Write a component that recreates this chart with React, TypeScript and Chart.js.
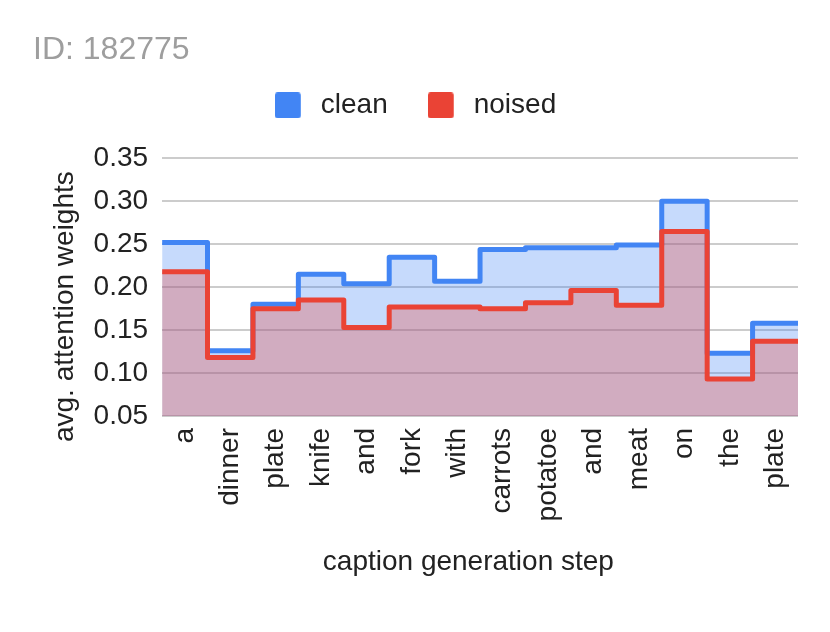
import React, { useEffect, useRef } from "react";
import { Chart, registerables } from "chart.js";

Chart.register(...registerables);

const steps = ["a", "dinner", "plate", "knife", "and", "fork", "with", "carrots", "potatoe", "and", "meat", "on", "the", "plate"];
const clean = [0.252, 0.126, 0.18, 0.215, 0.204, 0.235, 0.207, 0.244, 0.246, 0.246, 0.249, 0.3, 0.123, 0.158];
const noised = [0.218, 0.118, 0.175, 0.185, 0.153, 0.177, 0.177, 0.175, 0.182, 0.196, 0.179, 0.265, 0.093, 0.137];
const yTicks = [0.05, 0.1, 0.15, 0.2, 0.25, 0.3, 0.35];

const FONT = "'Liberation Sans', Arial, sans-serif";

function toSteps(values: number[]) {
  const pts = values.map((v, i) => ({ x: i, y: v }));
  pts.push({ x: values.length, y: values[values.length - 1] });
  return pts;
}

function legendSwatch(color: string) {
  const c = document.createElement("canvas");
  c.width = 32;
  c.height = 26;
  const ctx = c.getContext("2d")!;
  ctx.fillStyle = color;
  ctx.beginPath();
  if ((ctx as any).roundRect) (ctx as any).roundRect(0, 0, 26, 26, 3);
  else ctx.rect(0, 0, 26, 26);
  ctx.fill();
  return c;
}

export default function App() {
  const ref = useRef<HTMLCanvasElement | null>(null);

  useEffect(() => {
    if (!ref.current) return;
    const chart = new Chart(ref.current, {
      type: "line",
      data: {
        datasets: [
          {
            label: "clean",
            data: toSteps(clean),
            stepped: true,
            borderColor: "#4285F4",
            backgroundColor: "rgba(66,133,244,0.3)",
            fill: "start",
            borderWidth: 5,
            pointRadius: 0,
            borderJoinStyle: "round",
            order: 2,
          },
          {
            label: "noised",
            data: toSteps(noised),
            stepped: true,
            borderColor: "#EA4335",
            backgroundColor: "rgba(234,67,53,0.3)",
            fill: "start",
            borderWidth: 5,
            pointRadius: 0,
            borderJoinStyle: "round",
            order: 1,
          },
        ],
      },
      options: {
        responsive: false,
        animation: false,
        devicePixelRatio: 1,
        layout: { padding: { left: 33, right: 32, top: 31, bottom: 53 } },
        plugins: {
          tooltip: { enabled: false },
          title: {
            display: true,
            text: "ID: 182775",
            align: "start",
            color: "#9e9e9e",
            font: { family: FONT, size: 32, weight: "normal" },
            padding: { top: 0, bottom: -18 },
          },
          subtitle: {
            display: true,
            text: "",
            weight: 500,
            font: { family: FONT, size: 10 },
            padding: { top: 0, bottom: 17 },
          },
          legend: {
            position: "top",
            align: "center",
            labels: {
              boxWidth: 26,
              boxHeight: 26,
              usePointStyle: true,
              pointStyleWidth: 32,
              padding: 40,
              color: "#222",
              font: { family: FONT, size: 28 },
              sort: (a: any, b: any) => a.datasetIndex - b.datasetIndex,
              generateLabels: (c: any) => {
                const items = Chart.defaults.plugins.legend.labels.generateLabels(c);
                items.forEach((it: any) => {
                  const color = c.data.datasets[it.datasetIndex].borderColor as string;
                  it.pointStyle = legendSwatch(color);
                  it.fillStyle = color;
                  it.strokeStyle = color;
                  it.lineWidth = 0;
                });
                return items;
              },
            },
          },
        },
        scales: {
          x: {
            type: "linear",
            min: 0,
            max: steps.length,
            afterBuildTicks: (axis: any) => {
              axis.ticks = steps.map((_, i) => ({ value: i + 0.5 }));
            },
            ticks: {
              autoSkip: false,
              minRotation: 90,
              maxRotation: 90,
              padding: 12,
              color: "#222",
              font: { family: FONT, size: 28 },
              callback: (v: any) => steps[Math.floor(Number(v))],
            },
            grid: { display: false, drawTicks: false },
            border: { display: false },
            title: {
              display: true,
              text: "caption generation step   ",
              color: "#222",
              font: { family: FONT, size: 28 },
              padding: { top: 12, bottom: 0 },
            },
          },
          y: {
            min: 0.05,
            max: 0.35,
            afterBuildTicks: (axis: any) => {
              axis.ticks = yTicks.map((v) => ({ value: v }));
            },
            ticks: {
              padding: 14,
              color: "#222",
              font: { family: FONT, size: 28 },
              callback: (v: any) => Number(v).toFixed(2),
            },
            grid: { color: "#cccccc", lineWidth: 2, drawTicks: false },
            border: { display: false },
            title: {
              display: true,
              text: "avg. attention weights     ",
              color: "#222",
              font: { family: FONT, size: 28 },
              padding: { top: 15, bottom: -2 },
            },
          },
        },
      },
    });
    return () => chart.destroy();
  }, []);

  return (
    <div style={{ position: "absolute", left: 0, top: 0, width: 830, height: 632, background: "#fff" }}>
      <canvas ref={ref} width={830} height={632} style={{ display: "block" }} />
    </div>
  );
}
